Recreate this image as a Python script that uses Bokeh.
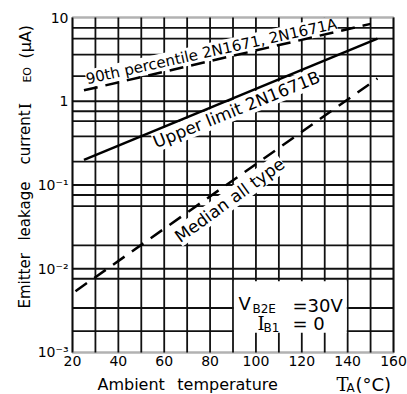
import math
from bokeh.plotting import figure
from bokeh.models import FixedTicker, Label, BoxAnnotation
from bokeh.embed import file_html
from bokeh.resources import INLINE

# ---- data ----
temp_90th = [25, 150]
ieo_90th = [1.35, 8.4]
temp_upper = [25, 153]
ieo_upper = [0.2, 5.6]
temp_median = [21.3, 153]
ieo_median = [0.0054, 1.87]

x_tick_values = [20, 40, 60, 80, 100, 120, 140, 160]
y_tick_values = [0.001, 0.01, 0.1, 1, 10]
y_tick_labels = ["10⁻³", "10⁻²", "10⁻¹", "1", "10"]

x_grid_values = list(range(20, 161, 10))
y_grid_values = [7.5, 5.6, 3.6, 2.0, 1, 0.76, 0.58, 0.38, 0.19,
                 0.1, 0.076, 0.056, 0.019, 0.01, 0.0076, 0.0034, 0.0018]

FONT = "DejaVu Sans"
X_LO, X_HI = 20, 160
Y_LO, Y_HI = 0.001, 10

# The frame fills the whole canvas; the chart box (20..160, 1e-3..10) sits inside it
p = figure(width=407, height=394, x_range=(-11.4, 166.1),
           y_range=(10 ** -3.5015, 10 ** 1.203),
           y_axis_type="log", output_backend="svg", toolbar_location=None,
           min_border=0, background_fill_color="white", border_fill_color="white")
p.outline_line_color = None
p.xgrid.visible = False
p.ygrid.visible = False

p.xaxis.ticker = FixedTicker(ticks=x_tick_values)
p.yaxis.ticker = FixedTicker(ticks=y_tick_values)
p.yaxis.major_label_overrides = {v: t for v, t in zip(y_tick_values, y_tick_labels)}
p.xaxis.fixed_location = Y_LO
p.yaxis.fixed_location = X_LO
for ax in (p.xaxis[0], p.yaxis[0]):
    ax.axis_line_color = None
    ax.major_tick_line_color = None
    ax.minor_tick_line_color = None
    ax.major_tick_out = 0
    ax.major_tick_in = 0
    ax.minor_tick_out = 0
    ax.major_label_text_font = FONT
    ax.major_label_text_font_size = "14px"
    ax.major_label_text_color = "black"
p.xaxis.major_label_standoff = 4
p.yaxis.major_label_standoff = 4

# grid drawn as segments inside the chart box
GRID = dict(line_color="#111111", line_width=1.8)
p.segment(x0=x_grid_values, y0=[Y_LO] * len(x_grid_values),
          x1=x_grid_values, y1=[Y_HI] * len(x_grid_values), **GRID)
p.segment(x0=[X_LO] * len(y_grid_values), y0=y_grid_values,
          x1=[X_HI] * len(y_grid_values), y1=y_grid_values, **GRID)

# white patch behind the condition text
p.add_layout(BoxAnnotation(left=90.4, right=139.6, top=0.0071, bottom=0.00172,
                           fill_color="white", fill_alpha=1.0, line_color=None))


def lab(text, x, y, size, angle=0.0, align="left", baseline="alphabetic",
        bg=None, font=FONT):
    kw = {}
    if bg is not None:
        kw = dict(background_fill_color=bg, background_fill_alpha=1.0)
    p.add_layout(Label(x=x, y=y, text=text, text_font=font, text_font_size=size,
                       angle=angle, text_align=align, text_baseline=baseline,
                       text_color="black", **kw))


# curve labels (white backing breaks the grid like the original)
lab("90th percentile 2N1671, 2N1671A", 80.6, 3.93, "15px", angle=math.radians(12.5),
    align="center", baseline="middle", bg="white")
lab("Upper limit 2N1671B", 91.5, 0.80, "17px", angle=math.radians(22),
    align="center", baseline="middle", bg="white")
lab("Median all type", 88.5, 0.066, "17px", angle=math.radians(36),
    align="center", baseline="middle", bg="white")

# curves
p.line(temp_90th, ieo_90th, line_color="black", line_width=2.5, line_dash="14 8", level="overlay")
p.line(temp_upper, ieo_upper, line_color="black", line_width=2.5, level="overlay")
p.line(temp_median, ieo_median, line_color="black", line_width=2.5, line_dash="14 9", level="overlay")

# chart border
p.add_layout(BoxAnnotation(left=X_LO, right=X_HI, bottom=Y_LO, top=Y_HI,
                           fill_alpha=0, line_color="black", line_width=2.5,
                           level="overlay"))

# condition text
lab("V", 92.4, 0.00385, "18px")
lab("B2E", 98.5, 0.00335, "12px")
lab("=30V", 115.9, 0.00364, "18px")
lab("I", 100.7, 0.00222, "18px", font="DejaVu Serif")
lab("B1", 103.3, 0.00194, "12px")
lab("=  0", 115.9, 0.00222, "18px")

# y axis title (reads bottom to top)
up = math.pi / 2
lab("Emitter", -0.5, 0.00335, "15px", angle=up)
lab("leakage", -0.5, 0.0217, "15px", angle=up)
lab("current", -0.5, 0.176, "15px", angle=up)
lab("I", -0.5, 0.80, "16px", angle=up, font="DejaVu Serif")
lab("EO", 0.4, 1.67, "11px", angle=up)
lab("(μA)", -0.5, 3.24, "16px", angle=up)

# x axis title
lab("Ambient", 30.9, 0.000415, "16px")
lab("temperature", 65.7, 0.000415, "16px")
lab("T", 135.1, 0.000415, "18px", font="DejaVu Serif")
lab("A", 139.5, 0.000382, "12px")
lab("(°C)", 143.4, 0.000415, "18px")

open("out.html", "w").write(file_html(p, INLINE))
